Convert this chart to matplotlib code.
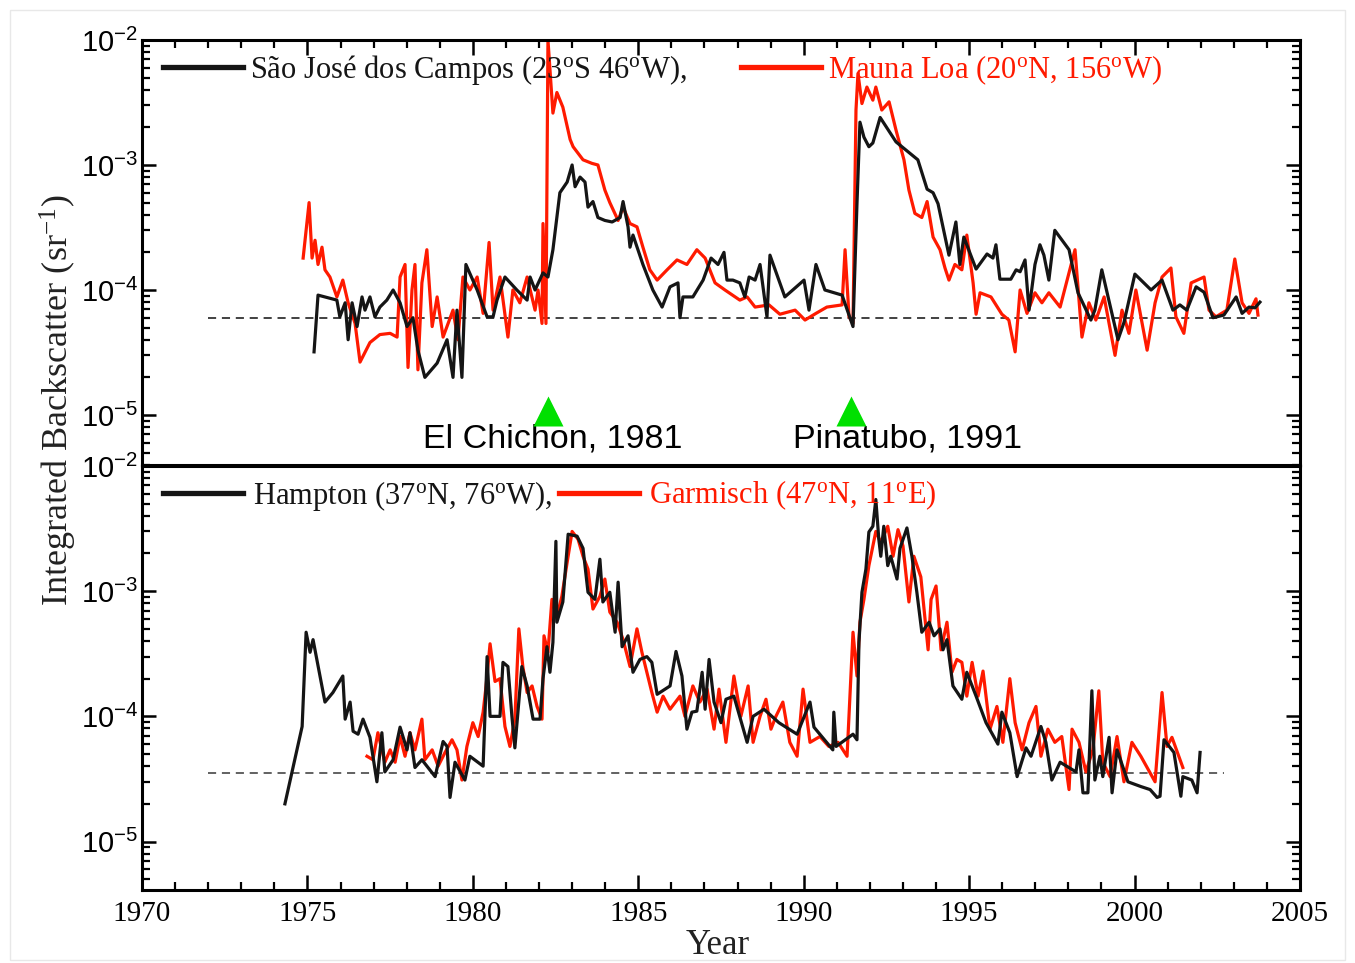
import matplotlib
matplotlib.use("Agg")
import matplotlib.pyplot as plt
import numpy as np
from matplotlib.ticker import MultipleLocator, LogLocator, FuncFormatter, NullFormatter
from matplotlib.lines import Line2D
from matplotlib.patches import Rectangle

plt.rcParams['font.family'] = ['Liberation Serif', 'DejaVu Serif']
plt.rcParams['mathtext.fontset'] = 'custom'
plt.rcParams['mathtext.rm'] = 'Liberation Serif'
plt.rcParams['mathtext.it'] = 'Liberation Serif:italic'
plt.rcParams['mathtext.bf'] = 'Liberation Serif:bold'
plt.rcParams['mathtext.sf'] = 'Liberation Sans'

# upper panel: Sao Jose dos Campos (black) and Mauna Loa (red)
sjc_year = [1975.20, 1975.32, 1975.89, 1975.98, 1976.14, 1976.23, 1976.35, 1976.50, 1976.65, 1976.74,
            1976.89, 1977.04, 1977.19, 1977.40, 1977.59, 1977.80, 1978.01, 1978.19, 1978.34, 1978.55,
            1978.92, 1979.22, 1979.40, 1979.52, 1979.67, 1979.79, 1980.13, 1980.43, 1980.61, 1980.73,
            1980.97, 1981.33, 1981.64, 1981.73, 1981.88, 1982.12, 1982.27, 1982.42, 1982.63, 1982.85,
            1983.00, 1983.09, 1983.24, 1983.39, 1983.48, 1983.63, 1983.78, 1983.99, 1984.21, 1984.45,
            1984.54, 1984.69, 1984.75, 1984.84, 1985.14, 1985.44, 1985.72, 1985.96, 1986.20, 1986.26,
            1986.35, 1986.65, 1986.96, 1987.20, 1987.41, 1987.59, 1987.68, 1987.86, 1988.07, 1988.22,
            1988.35, 1988.53, 1988.68, 1988.89, 1988.98, 1989.43, 1990.01, 1990.16, 1990.37, 1990.64,
            1991.16, 1991.49, 1991.61, 1991.70, 1991.82, 1991.97, 1992.09, 1992.31, 1992.79, 1993.45,
            1993.73, 1993.91, 1994.06, 1994.39, 1994.60, 1994.72, 1994.84, 1995.21, 1995.54, 1995.72,
            1995.81, 1995.93, 1996.26, 1996.42, 1996.54, 1996.69, 1996.81, 1996.99, 1997.14, 1997.26,
            1997.41, 1997.59, 1998.02, 1998.29, 1998.68, 1998.80, 1999.01, 1999.50, 1999.68, 2000.01,
            2000.50, 2000.83, 2001.16, 2001.37, 2001.58, 2001.86, 2002.10, 2002.37, 2002.70, 2003.07,
            2003.25, 2003.46, 2003.64, 2003.79]
sjc_val = [3.2e-5, 9.1e-5, 8.3e-5, 6.1e-5, 7.9e-5, 4.0e-5, 7.9e-5, 5.1e-5, 8.8e-5, 6.9e-5,
           8.8e-5, 6.1e-5, 7.3e-5, 8.3e-5, 1.0e-4, 7.9e-5, 5.1e-5, 6.0e-5, 3.3e-5, 2.0e-5,
           2.6e-5, 4.0e-5, 2.0e-5, 6.9e-5, 2.0e-5, 1.6e-4, 1.0e-4, 6.1e-5, 6.1e-5, 8.3e-5,
           1.27e-4, 1.0e-4, 8.3e-5, 1.27e-4, 1.0e-4, 1.37e-4, 1.27e-4, 2.1e-4, 6.0e-4, 7.3e-4,
           1.0e-3, 6.7e-4, 8.0e-4, 7.3e-4, 4.6e-4, 5.1e-4, 3.8e-4, 3.6e-4, 3.5e-4, 3.8e-4,
           5.1e-4, 3.2e-4, 2.2e-4, 2.75e-4, 1.6e-4, 1.0e-4, 7.3e-5, 1.06e-4, 1.14e-4, 6.0e-5,
           8.8e-5, 8.8e-5, 1.2e-4, 1.8e-4, 1.6e-4, 2.0e-4, 1.2e-4, 1.2e-4, 1.14e-4, 8.8e-5,
           1.27e-4, 1.2e-4, 1.6e-4, 6.1e-5, 1.9e-4, 8.8e-5, 1.2e-4, 6.9e-5, 1.6e-4, 1.0e-4,
           9.1e-5, 5.1e-5, 4.9e-4, 2.2e-3, 1.67e-3, 1.4e-3, 1.5e-3, 2.4e-3, 1.53e-3, 1.1e-3,
           6.4e-4, 6.0e-4, 4.9e-4, 1.9e-4, 3.5e-4, 1.6e-4, 2.65e-4, 1.47e-4, 1.94e-4, 1.8e-4,
           2.3e-4, 1.22e-4, 1.22e-4, 1.45e-4, 1.4e-4, 1.74e-4, 6.9e-5, 1.6e-4, 2.3e-4, 1.9e-4,
           1.2e-4, 3.0e-4, 2.1e-4, 9.5e-5, 5.75e-5, 6.9e-5, 1.45e-4, 4.0e-5, 5.5e-5, 1.34e-4,
           1.0e-4, 1.2e-4, 6.9e-5, 7.6e-5, 6.9e-5, 1.06e-4, 9.6e-5, 6.0e-5, 6.3e-5, 8.8e-5,
           6.5e-5, 7.3e-5, 7.2e-5, 8.0e-5]

mlo_year = [1974.87, 1975.05, 1975.14, 1975.23, 1975.32, 1975.44, 1975.53, 1975.68, 1975.89, 1976.07,
            1976.23, 1976.44, 1976.59, 1976.89, 1977.19, 1977.50, 1977.71, 1977.80, 1977.95, 1978.04,
            1978.16, 1978.25, 1978.34, 1978.46, 1978.61, 1978.77, 1978.92, 1979.10, 1979.40, 1979.55,
            1979.70, 1979.91, 1980.13, 1980.31, 1980.49, 1980.61, 1980.82, 1981.06, 1981.21, 1981.42,
            1981.64, 1981.88, 1981.97, 1982.09, 1982.12, 1982.21, 1982.27, 1982.42, 1982.54, 1982.72,
            1982.94, 1983.03, 1983.33, 1983.60, 1983.78, 1983.99, 1984.14, 1984.39, 1984.54, 1984.75,
            1984.96, 1985.14, 1985.35, 1985.57, 1985.87, 1986.17, 1986.47, 1986.77, 1987.02, 1987.32,
            1987.62, 1988.07, 1988.29, 1988.53, 1988.95, 1989.28, 1989.74, 1990.04, 1990.37, 1990.70,
            1991.16, 1991.25, 1991.37, 1991.49, 1991.58, 1991.64, 1991.76, 1991.91, 1992.09, 1992.18,
            1992.36, 1992.58, 1992.79, 1993.03, 1993.18, 1993.36, 1993.57, 1993.73, 1993.91, 1994.12,
            1994.27, 1994.39, 1994.57, 1994.78, 1994.93, 1995.12, 1995.21, 1995.33, 1995.66, 1995.99,
            1996.20, 1996.39, 1996.54, 1996.75, 1996.99, 1997.20, 1997.41, 1997.75, 1998.20, 1998.41,
            1998.62, 1998.83, 1999.08, 1999.41, 1999.62, 1999.83, 2000.04, 2000.38, 2000.62, 2000.83,
            2001.10, 2001.25, 2001.49, 2001.71, 2002.10, 2002.25, 2002.46, 2002.79, 2003.03, 2003.25,
            2003.46, 2003.67, 2003.73]
mlo_val = [1.8e-4, 5.0e-4, 1.8e-4, 2.5e-4, 1.6e-4, 2.2e-4, 1.45e-4, 1.27e-4, 8.8e-5, 1.2e-4,
           7.9e-5, 5.4e-5, 2.65e-5, 3.8e-5, 4.4e-5, 4.5e-5, 4.2e-5, 1.27e-4, 1.6e-4, 2.4e-5,
           1.0e-4, 1.6e-4, 2.3e-5, 1.14e-4, 2.1e-4, 5.1e-5, 8.8e-5, 4.2e-5, 6.9e-5, 4.0e-5,
           1.27e-4, 1.0e-4, 1.27e-4, 6.5e-5, 2.4e-4, 6.9e-5, 1.27e-4, 4.2e-5, 1.0e-4, 7.9e-5,
           1.27e-4, 6.9e-5, 1.0e-4, 5.4e-5, 3.4e-4, 5.4e-5, 1.0e-2, 2.6e-3, 3.8e-3, 2.9e-3,
           1.6e-3, 1.4e-3, 1.1e-3, 1.03e-3, 1.0e-3, 6.3e-4, 5.0e-4, 3.6e-4, 4.6e-4, 3.4e-4,
           3.2e-4, 2.2e-4, 1.45e-4, 1.2e-4, 1.45e-4, 1.74e-4, 1.6e-4, 2.1e-4, 1.8e-4, 1.14e-4,
           1.0e-4, 8.3e-5, 8.8e-5, 7.3e-5, 7.6e-5, 6.4e-5, 6.9e-5, 5.75e-5, 6.5e-5, 7.3e-5,
           7.6e-5, 2.1e-4, 6.1e-5, 5.4e-5, 2.75e-3, 5.4e-3, 3.1e-3, 4.2e-3, 3.3e-3, 4.2e-3,
           2.75e-3, 3.2e-3, 1.9e-3, 1.1e-3, 6.3e-4, 4.1e-4, 3.8e-4, 5.1e-4, 2.65e-4, 2.1e-4,
           1.5e-4, 1.2e-4, 1.6e-4, 1.45e-4, 2.75e-4, 1.14e-4, 6.4e-5, 9.5e-5, 8.8e-5, 6.4e-5,
           5.75e-5, 3.2e-5, 1.0e-4, 6.5e-5, 9.5e-5, 7.9e-5, 9.5e-5, 7.3e-5, 2.1e-4, 4.2e-5,
           7.9e-5, 5.75e-5, 8.8e-5, 3.0e-5, 6.9e-5, 4.5e-5, 1.0e-4, 3.3e-5, 7.9e-5, 1.27e-4,
           1.5e-4, 6.1e-5, 4.5e-5, 1.14e-4, 1.27e-4, 6.9e-5, 6.1e-5, 6.9e-5, 1.77e-4, 7.9e-5,
           6.5e-5, 8.5e-5, 6.3e-5]

# lower panel: Hampton (black) and Garmisch (red)
hampton_year = [1974.32, 1974.84, 1974.96, 1975.08, 1975.17, 1975.53, 1975.77, 1976.07, 1976.14, 1976.29,
                1976.38, 1976.53, 1976.68, 1976.89, 1977.10, 1977.25, 1977.34, 1977.59, 1977.80, 1978.01,
                1978.10, 1978.25, 1978.46, 1978.86, 1979.10, 1979.22, 1979.31, 1979.46, 1979.76, 1979.91,
                1980.31, 1980.43, 1980.52, 1980.82, 1980.91, 1981.06, 1981.18, 1981.27, 1981.48, 1981.64,
                1981.82, 1982.03, 1982.12, 1982.24, 1982.33, 1982.42, 1982.51, 1982.54, 1982.72, 1982.88,
                1983.15, 1983.33, 1983.48, 1983.69, 1983.84, 1983.93, 1984.14, 1984.30, 1984.39, 1984.51,
                1984.69, 1984.84, 1985.05, 1985.26, 1985.41, 1985.57, 1985.96, 1986.14, 1986.32, 1986.47,
                1986.62, 1986.77, 1986.93, 1987.02, 1987.14, 1987.29, 1987.50, 1987.65, 1987.89, 1988.29,
                1988.47, 1988.80, 1989.25, 1989.80, 1990.19, 1990.31, 1990.88, 1990.91, 1990.98, 1991.49,
                1991.61, 1991.67, 1991.76, 1991.88, 1991.97, 1992.09, 1992.18, 1992.27, 1992.33, 1992.42,
                1992.54, 1992.63, 1992.82, 1992.91, 1993.12, 1993.27, 1993.42, 1993.57, 1993.79, 1993.94,
                1994.12, 1994.21, 1994.33, 1994.51, 1994.78, 1994.93, 1995.21, 1995.51, 1995.87, 1995.99,
                1996.23, 1996.45, 1996.72, 1996.87, 1997.17, 1997.32, 1997.50, 1997.75, 1998.23, 1998.32,
                1998.44, 1998.59, 1998.71, 1998.80, 1998.95, 1999.04, 1999.23, 1999.32, 1999.47, 1999.80,
                2000.19, 2000.47, 2000.68, 2000.77, 2000.89, 2001.19, 2001.40, 2001.46, 2001.73, 2001.89,
                2001.98]
hampton_val = [2.0e-5, 8.3e-5, 4.7e-4, 3.25e-4, 4.1e-4, 1.3e-4, 1.55e-4, 2.1e-4, 9.5e-5, 1.3e-4,
               7.6e-5, 7.2e-5, 9.5e-5, 6.8e-5, 3.0e-5, 7.4e-5, 3.6e-5, 4.5e-5, 8.2e-5, 5.4e-5,
               7.4e-5, 3.9e-5, 4.5e-5, 3.3e-5, 6.3e-5, 5.75e-5, 2.25e-5, 4.3e-5, 3.1e-5, 4.8e-5,
               4.0e-5, 3.0e-4, 1.0e-4, 1.0e-4, 2.7e-4, 2.5e-4, 1.0e-4, 5.6e-5, 2.5e-4, 1.75e-4,
               9.5e-5, 9.5e-5, 2.0e-4, 3.6e-4, 2.25e-4, 3.9e-4, 2.5e-3, 5.65e-4, 8.2e-4, 2.85e-3,
               2.75e-3, 2.2e-3, 9.8e-4, 8.6e-4, 1.8e-3, 8.2e-4, 9.8e-4, 4.7e-4, 1.18e-3, 3.6e-4,
               4.4e-4, 2.25e-4, 2.85e-4, 3.0e-4, 2.7e-4, 1.5e-4, 1.75e-4, 3.3e-4, 2.1e-4, 7.9e-5,
               1.08e-4, 1.1e-4, 2.25e-4, 1.14e-4, 2.85e-4, 1.3e-4, 8.9e-5, 1.37e-4, 1.45e-4, 6.2e-5,
               1.0e-4, 1.14e-4, 8.9e-5, 7.2e-5, 1.3e-4, 8.2e-5, 5.4e-5, 1.08e-4, 5.75e-5, 7.2e-5,
               6.5e-5, 3.9e-4, 9.8e-4, 1.5e-3, 2.97e-3, 3.3e-3, 5.4e-3, 2.6e-3, 1.9e-3, 3.3e-3,
               1.6e-3, 1.9e-3, 1.25e-3, 2.2e-3, 3.2e-3, 1.9e-3, 9.8e-4, 4.7e-4, 5.65e-4, 4.4e-4,
               5.0e-4, 3.4e-4, 4.1e-4, 1.75e-4, 1.37e-4, 2.25e-4, 1.45e-4, 8.9e-5, 6.0e-5, 1.08e-4,
               7.4e-5, 3.3e-5, 5.6e-5, 4.8e-5, 8.3e-5, 6.2e-5, 3.1e-5, 4.3e-5, 3.6e-5, 5.4e-5,
               2.45e-5, 2.45e-5, 1.6e-4, 3.1e-5, 4.8e-5, 3.3e-5, 6.8e-5, 2.45e-5, 5.4e-5, 3.0e-5,
               2.75e-5, 2.6e-5, 2.25e-5, 2.3e-5, 6.5e-5, 5.15e-5, 2.3e-5, 3.3e-5, 3.1e-5, 2.45e-5,
               5.15e-5]

garmisch_year = [1976.80, 1976.98, 1977.13, 1977.34, 1977.50, 1977.65, 1977.80, 1977.95, 1978.10, 1978.25,
                 1978.46, 1978.55, 1978.77, 1978.95, 1979.16, 1979.37, 1979.52, 1979.67, 1979.82, 1980.00,
                 1980.16, 1980.31, 1980.40, 1980.52, 1980.67, 1980.82, 1980.97, 1981.12, 1981.27, 1981.39,
                 1981.51, 1981.64, 1981.79, 1981.94, 1982.09, 1982.15, 1982.27, 1982.39, 1982.54, 1982.69,
                 1982.85, 1983.00, 1983.18, 1983.33, 1983.48, 1983.63, 1983.84, 1983.99, 1984.14, 1984.36,
                 1984.54, 1984.75, 1984.96, 1985.11, 1985.26, 1985.41, 1985.57, 1985.75, 1985.96, 1986.26,
                 1986.41, 1986.65, 1986.86, 1987.08, 1987.29, 1987.44, 1987.65, 1987.89, 1988.10, 1988.32,
                 1988.47, 1988.68, 1988.86, 1989.01, 1989.16, 1989.37, 1989.58, 1989.80, 1989.98, 1990.19,
                 1990.49, 1990.76, 1991.04, 1991.31, 1991.49, 1991.61, 1991.70, 1991.82, 1991.97, 1992.18,
                 1992.33, 1992.54, 1992.70, 1992.85, 1993.00, 1993.18, 1993.33, 1993.54, 1993.76, 1993.85,
                 1994.00, 1994.15, 1994.33, 1994.48, 1994.63, 1994.78, 1994.93, 1995.09, 1995.27, 1995.42,
                 1995.63, 1995.84, 1996.02, 1996.23, 1996.39, 1996.60, 1996.81, 1997.02, 1997.17, 1997.38,
                 1997.59, 1997.80, 1998.02, 1998.11, 1998.32, 1998.53, 1998.74, 1998.92, 1999.04, 1999.26,
                 1999.47, 1999.68, 1999.92, 2000.19, 2000.62, 2000.83, 2000.98, 2001.13, 2001.46]
garmisch_val = [4.8e-5, 4.5e-5, 7.4e-5, 4.3e-5, 5.4e-5, 4.3e-5, 6.9e-5, 4.8e-5, 7.4e-5, 5.4e-5,
                9.5e-5, 4.5e-5, 5.4e-5, 4.0e-5, 5.15e-5, 6.5e-5, 5.4e-5, 3.1e-5, 5.75e-5, 8.9e-5,
                6.9e-5, 1.08e-4, 1.75e-4, 3.8e-4, 1.9e-4, 2.0e-4, 8.3e-5, 5.75e-5, 9.5e-5, 5.0e-4,
                2.5e-4, 1.55e-4, 1.75e-4, 1.2e-4, 9.5e-5, 4.4e-4, 3.25e-4, 8.6e-4, 6.3e-4, 9.1e-4,
                1.7e-3, 3.0e-3, 2.6e-3, 1.9e-3, 1.5e-3, 7.2e-4, 9.1e-4, 1.25e-3, 6.8e-4, 5.65e-4,
                4.1e-4, 2.5e-4, 5.0e-4, 3.25e-4, 2.25e-4, 1.55e-4, 1.08e-4, 1.45e-4, 1.14e-4, 1.45e-4,
                1.0e-4, 1.75e-4, 1.3e-4, 1.65e-4, 7.9e-5, 1.65e-4, 6.2e-5, 2.1e-4, 1.0e-4, 1.75e-4,
                6.2e-5, 1.0e-4, 1.37e-4, 7.9e-5, 1.0e-4, 1.3e-4, 6.2e-5, 4.8e-5, 1.65e-4, 6.2e-5,
                6.9e-5, 5.75e-5, 6.2e-5, 4.8e-5, 4.7e-4, 2.1e-4, 5.65e-4, 8.6e-4, 1.6e-3, 3.0e-3,
                2.45e-3, 3.3e-3, 1.9e-3, 3.1e-3, 2.3e-3, 8.2e-4, 1.9e-3, 1.3e-3, 3.4e-4, 8.6e-4,
                1.1e-3, 3.4e-4, 5.65e-4, 2.25e-4, 2.85e-4, 2.7e-4, 1.45e-4, 2.7e-4, 1.45e-4, 2.3e-4,
                7.9e-5, 1.2e-4, 6.2e-5, 2.0e-4, 8.9e-5, 5.4e-5, 8.9e-5, 1.2e-4, 4.8e-5, 7.9e-5,
                6.2e-5, 6.9e-5, 2.6e-5, 7.9e-5, 6.2e-5, 3.6e-5, 5.4e-5, 1.6e-4, 4.3e-5, 3.3e-5,
                6.9e-5, 3.0e-5, 6.2e-5, 4.8e-5, 3.0e-5, 1.55e-4, 5.75e-5, 6.8e-5, 3.9e-5]

# background levels (dashed) and their time span
top_baseline = 6.0e-5
top_base_span = [1972.0, 2003.7]
bottom_baseline = 3.5e-5
bottom_base_span = [1972.0, 2002.7]

# eruptions
eruption_year = [1982.27, 1991.42]
eruption_level = [1.07e-5, 1.07e-5]
eruption_label = ['El Chichon, 1981', 'Pinatubo, 1991']
eruption_label_year = [1978.49, 1989.68]
eruption_label_level = 6.4e-6

black = '#151515'
red = '#ff1a00'

fig = plt.figure(figsize=(13.55, 9.63), dpi=100)
fig.patches.append(Rectangle((10 / 1355, 3 / 963), 1335 / 1355, 950 / 963, transform=fig.transFigure,
                             fill=False, edgecolor='#e8e8e8', lw=1))
ax1 = fig.add_axes([0.1048, 0.5171, 0.8546, 0.4414])
ax2 = fig.add_axes([0.1048, 0.0758, 0.8546, 0.4403])


def decade_label(v, pos):
    return r'$\mathsf{10^{%d}}$' % int(round(np.log10(v)))


def style(ax, ymin, top_ticks):
    ax.set_yscale('log')
    ax.set_xlim(1970, 2005)
    ax.set_ylim(ymin, 1e-2)
    ax.xaxis.set_major_locator(MultipleLocator(5))
    ax.xaxis.set_minor_locator(MultipleLocator(1))
    ax.yaxis.set_major_locator(LogLocator(base=10, numticks=10))
    ax.yaxis.set_minor_locator(LogLocator(base=10, subs=np.arange(2, 10), numticks=20))
    ax.yaxis.set_major_formatter(FuncFormatter(decade_label))
    ax.yaxis.set_minor_formatter(NullFormatter())
    ax.tick_params(axis='y', which='both', direction='in', left=True, right=True, labelsize=21, pad=3)
    ax.tick_params(axis='y', which='major', length=10, width=1.8)
    ax.tick_params(axis='y', which='minor', length=6, width=1.6)
    ax.tick_params(axis='x', which='both', direction='in', top=top_ticks, bottom=not top_ticks,
                   labelbottom=not top_ticks, labelsize=21, pad=8)
    ax.tick_params(axis='x', which='major', length=11, width=1.8)
    ax.tick_params(axis='x', which='minor', length=6, width=1.6)
    for s in ax.spines.values():
        s.set_linewidth(2.2)


style(ax1, 3.98e-6, True)
style(ax2, 4.1e-6, False)

# upper panel
ax1.hlines(top_baseline, top_base_span[0], top_base_span[1], colors='#333333', lw=1.3,
           linestyles=(0, (4.5, 3.2)), zorder=1)
ax1.plot(mlo_year, mlo_val, color=red, lw=2.3, zorder=2)
ax1.plot(sjc_year, sjc_val, color=black, lw=2.3, zorder=3)
ax1.plot(eruption_year, eruption_level, '^', color='#00e000', ms=21, mec='none', zorder=4)
for lab, yr in zip(eruption_label, eruption_label_year):
    ax1.text(yr, eruption_label_level, lab, ha='left', va='center', fontsize=24.5,
             family=['Liberation Sans', 'DejaVu Sans'])

h_top = [Line2D([], [], color=black, lw=3.8),
         Line2D([], [], color=red, lw=3.8)]
lab_top = [u'São José dos Campos (23$^{\\mathrm{o}}$S 46$^{\\mathrm{o}}$W),',
           u'Mauna Loa (20$^{\\mathrm{o}}$N, 156$^{\\mathrm{o}}$W)']
ax1.legend(h_top, lab_top, loc='center left', bbox_to_anchor=(0.018, 0.93), ncol=2, frameon=False,
           fontsize=22, handlelength=2.62, handletextpad=0.23, columnspacing=1.77, borderpad=0,
           borderaxespad=0, labelcolor='linecolor')

# lower panel
ax2.hlines(bottom_baseline, bottom_base_span[0], bottom_base_span[1], colors='#555555', lw=1.3,
           linestyles=(0, (4.5, 3.2)), zorder=1)
ax2.plot(garmisch_year, garmisch_val, color=red, lw=2.3, zorder=2)
ax2.plot(hampton_year, hampton_val, color=black, lw=2.3, zorder=3)

h_bot = [Line2D([], [], color=black, lw=3.8),
         Line2D([], [], color=red, lw=3.8)]
lab_bot = ['Hampton (37$^{\\mathrm{o}}$N, 76$^{\\mathrm{o}}$W),',
           'Garmisch (47$^{\\mathrm{o}}$N, 11$^{\\mathrm{o}}$E)']
ax2.legend(h_bot, lab_bot, loc='center left', bbox_to_anchor=(0.018, 0.93), ncol=2, frameon=False,
           fontsize=22, handlelength=2.62, handletextpad=0.33, columnspacing=0.2, borderpad=0,
           borderaxespad=0, labelcolor='linecolor')

fig.text(58 / 1355, 1 - 400 / 963, 'Integrated Backscatter (sr$^{-1}$)', rotation=90,
         ha='center', va='center', fontsize=26, color='#222222')
fig.text(718 / 1355, 1 - 945 / 963, 'Year', ha='center', va='center', fontsize=25, color='#222222')

fig.savefig('out.png', dpi=100)
